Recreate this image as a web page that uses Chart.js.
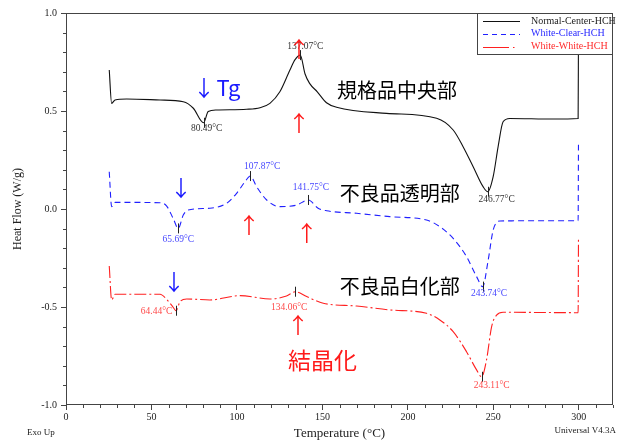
<!DOCTYPE html>
<html>
<head>
<meta charset="utf-8">
<script src="https://cdn.jsdelivr.net/npm/chart.js@4"></script>
<style>
  html, body { margin: 0; padding: 0; background: #fff; }
  #wrap { width: 624px; height: 441px; }
</style>
</head>
<body>
<div id="wrap"><canvas id="dsc" width="624" height="441"></canvas></div>
<script>
// Series (temperature in °C, heat flow in W/g)
const blackT = [25.3, 26.7, 28.7, 35.5, 55, 68.6, 74.5, 80.49, 83.2, 88.1, 105.7, 113.5, 119.3, 125.1, 131, 134, 137.07, 139.8, 142.5, 147, 152.4, 158.3, 187.5, 216.8, 226.5, 232.3, 238.2, 244, 246.77, 249.9, 252.8, 255.7, 259.6, 285, 299.6, 299.8];
const blackV = [0.709, 0.539, 0.556, 0.561, 0.556, 0.547, 0.514, 0.44, 0.497, 0.505, 0.509, 0.517, 0.539, 0.598, 0.709, 0.762, 0.785, 0.69, 0.641, 0.598, 0.542, 0.519, 0.488, 0.463, 0.403, 0.318, 0.216, 0.114, 0.088, 0.165, 0.318, 0.445, 0.462, 0.459, 0.462, 0.9];

const blueT = [25.3, 26.7, 28.7, 55, 58.9, 62.7, 65.69, 68.6, 71.5, 84.2, 94, 99.8, 104.7, 107.87, 111.5, 117.4, 125.1, 134.9, 141.75, 147.5, 152.5, 170, 189.5, 210.9, 218.7, 226.5, 234.3, 240.2, 243.74, 247, 249.9, 253.8, 277.2, 299.6, 299.8];
const blueV = [0.19, 0.012, 0.034, 0.032, 0.015, -0.048, -0.099, -0.031, -0.005, 0.004, 0.029, 0.08, 0.139, 0.168, 0.114, 0.046, 0.012, 0.02, 0.046, 0.004, -0.009, -0.022, -0.039, -0.056, -0.09, -0.15, -0.243, -0.345, -0.396, -0.26, -0.107, -0.061, -0.06, -0.06, 0.335];

const redT = [25.3, 26.7, 28.7, 55, 58.9, 62.4, 64.44, 66.7, 70.6, 84.2, 101.8, 119.3, 129, 134.06, 140.8, 150.5, 170, 189.5, 210.9, 218.7, 226.5, 234.3, 240.2, 243.11, 246, 249, 251.9, 255.7, 299.6, 299.8];
const redV = [-0.291, -0.464, -0.435, -0.435, -0.461, -0.498, -0.519, -0.473, -0.459, -0.464, -0.442, -0.459, -0.444, -0.422, -0.447, -0.481, -0.495, -0.515, -0.532, -0.566, -0.626, -0.728, -0.821, -0.856, -0.77, -0.6, -0.541, -0.527, -0.529, -0.15];

const seriesNames = ['Normal-Center-HCH', 'White-Clear-HCH', 'White-White-HCH'];

// Peak temperatures and the heat flow at each peak
const blackPeakT = [80.49, 137.07, 246.77];
const blackPeakV = [0.44, 0.785, 0.088];
const bluePeakT = [65.69, 107.87, 141.75, 243.74];
const bluePeakV = [-0.099, 0.168, 0.046, -0.396];
const redPeakT = [64.44, 134.06, 243.11];
const redPeakV = [-0.519, -0.422, -0.856];

// Where each peak label sits (data coords)
const blackLabelAt = [[82.3, 0.412], [140, 0.828], [251.9, 0.049]];
const blueLabelAt = [[65.7, -0.155], [114.8, 0.219], [143.3, 0.109], [247.5, -0.43]];
const redLabelAt = [[53, -0.524], [130.6, -0.503], [249, -0.903]];

// Tick labels
const xTickLabels = [0, 50, 100, 150, 200, 250, 300];
const yTickLabels = [-1.0, -0.5, 0.0, 0.5, 1.0];

// Hand annotations: arrows and Japanese notes
const upArrows = [[136.3, 0.816], [136.3, 0.439], [107, -0.082], [140.9, -0.122], [135.7, -0.592]];
const downArrows = [[80.7, 0.617], [67.3, 0.110], [63.2, -0.372]];
const notes = [
  ['規格品中央部', 158.5, 0.607],
  ['不良品透明部', 160.2, 0.082],
  ['不良品白化部', 160.2, -0.393]
];

const COLORS = { black: '#111', blue: '#2020ff', red: '#ff2020' };
const SERIF = '"Liberation Serif", "DejaVu Serif", serif';
const CJK = '"Noto Sans CJK JP", "Noto Sans", sans-serif';

function pts(xs, ys) {
  return xs.map((t, i) => ({ x: t, y: ys[i] }));
}

const dashes = [[], [6, 4], [12, 3, 2, 3]];

const annotate = {
  id: 'annotate',
  afterDatasetsDraw(chart) {
    const { ctx, chartArea: a, scales: { x, y } } = chart;
    const px = (t) => x.getPixelForValue(t);
    const py = (v) => y.getPixelForValue(v);
    ctx.save();

    // minor ticks
    ctx.strokeStyle = '#444';
    ctx.lineWidth = 1;
    ctx.beginPath();
    for (let t = 0; t <= 320; t += 10) {
      if (t % 50 === 0) continue;
      const xx = Math.round(px(t)) + 0.5;
      ctx.moveTo(xx, a.bottom);
      ctx.lineTo(xx, a.bottom + 3);
    }
    for (let k = -10; k <= 10; k++) {
      if (k % 5 === 0) continue;
      const yy = Math.round(py(k / 10)) + 0.5;
      ctx.moveTo(a.left - 3, yy);
      ctx.lineTo(a.left, yy);
    }
    ctx.stroke();

    // frame
    ctx.strokeStyle = '#444';
    ctx.strokeRect(Math.round(a.left) + 0.5, Math.round(a.top) + 0.5,
      Math.round(a.right - a.left) - 1, Math.round(a.bottom - a.top) - 1);

    // peak marks and labels
    const peakSets = [
      [blackPeakT, blackPeakV, blackLabelAt, '#333'],
      [bluePeakT, bluePeakV, blueLabelAt, '#4848ff'],
      [redPeakT, redPeakV, redLabelAt, '#ff4848']
    ];
    ctx.font = '9.5px ' + SERIF;
    ctx.textAlign = 'center';
    ctx.textBaseline = 'middle';
    peakSets.forEach(([ts, vs, at, col]) => {
      ts.forEach((t, i) => {
        const xx = Math.round(px(t)) + 0.5;
        const yy = py(vs[i]);
        ctx.strokeStyle = '#222';
        ctx.beginPath();
        ctx.moveTo(xx, yy - 5);
        ctx.lineTo(xx, yy + 5);
        ctx.stroke();
        ctx.fillStyle = col;
        ctx.fillText(t.toFixed(2) + '°C', px(at[i][0]), py(at[i][1]));
      });
    });

    // arrows
    ctx.font = '22px ' + CJK;
    ctx.fillStyle = '#ff1a1a';
    upArrows.forEach(([t, v]) => ctx.fillText('↑', px(t), py(v)));
    ctx.fillStyle = '#1a1aff';
    downArrows.forEach(([t, v]) => ctx.fillText('↓', px(t), py(v)));

    // notes
    ctx.textAlign = 'left';
    ctx.font = '22px ' + CJK;
    ctx.fillStyle = '#1a1aff';
    ctx.fillText('Tg', px(88.1), py(0.617));
    ctx.font = '20px ' + CJK;
    ctx.fillStyle = '#000';
    notes.forEach(([s, t, v]) => ctx.fillText(s, px(t), py(v)));
    ctx.font = '23px ' + CJK;
    ctx.fillStyle = '#ff1a1a';
    ctx.fillText('結晶化', px(129.8), py(-0.77));

    // legend box
    const lx = 477.5, ly = Math.round(a.top) + 0.5, lw = 135, lh = 41;
    ctx.fillStyle = '#fff';
    ctx.fillRect(lx, ly, lw, lh);
    ctx.strokeStyle = '#444';
    ctx.strokeRect(lx, ly, lw, lh);
    const legendCols = [COLORS.black, COLORS.blue, COLORS.red];
    const legendText = ['#222', '#2a2aff', '#ff2a2a'];
    const legendDash = [[], [5, 4], [26, 4, 1.5, 10]];
    ctx.font = '10px ' + SERIF;
    ctx.textBaseline = 'middle';
    seriesNames.forEach((name, i) => {
      const rowY = 21 + i * 12.8;
      ctx.strokeStyle = legendCols[i];
      ctx.setLineDash(legendDash[i]);
      ctx.beginPath();
      ctx.moveTo(483, Math.round(rowY) + 0.5);
      ctx.lineTo(520, Math.round(rowY) + 0.5);
      ctx.stroke();
      ctx.setLineDash([]);
      ctx.fillStyle = legendText[i];
      ctx.fillText(name, 531, rowY);
    });

    // footer texts
    ctx.fillStyle = '#222';
    ctx.font = '9px ' + SERIF;
    ctx.textAlign = 'left';
    ctx.fillText('Exo Up', 27, 433);
    ctx.textAlign = 'right';
    ctx.fillText('Universal V4.3A', 616, 431);
    ctx.restore();
  }
};

new Chart(document.getElementById('dsc'), {
  type: 'line',
  data: {
    datasets: [
      { label: seriesNames[0], data: pts(blackT, blackV), borderColor: COLORS.black, borderDash: dashes[0] },
      { label: seriesNames[1], data: pts(blueT, blueV), borderColor: COLORS.blue, borderDash: dashes[1] },
      { label: seriesNames[2], data: pts(redT, redV), borderColor: COLORS.red, borderDash: dashes[2] }
    ].map(d => Object.assign(d, {
      borderWidth: 1.1,
      pointRadius: 0,
      fill: false,
      cubicInterpolationMode: 'monotone'
    }))
  },
  options: {
    responsive: false,
    animation: false,
    devicePixelRatio: 1,
    layout: { padding: { left: 0, top: 13, right: 11, bottom: 0 } },
    plugins: { legend: { display: false }, tooltip: { enabled: false } },
    scales: {
      x: {
        type: 'linear',
        min: 0,
        max: 320,
        afterFit: (s) => { s.height = 36; },
        border: { display: false },
        grid: {
          drawOnChartArea: false,
          tickLength: 5,
          tickColor: (c) => (c.tick && xTickLabels.includes(c.tick.value)) ? '#444' : 'rgba(0,0,0,0)'
        },
        ticks: {
          stepSize: 10,
          autoSkip: false,
          maxRotation: 0,
          padding: 1,
          color: '#222',
          font: { family: SERIF, size: 10 },
          callback: (v) => xTickLabels.includes(v) ? String(v) : ''
        },
        title: {
          display: true,
          text: 'Temperature (°C)',
          color: '#222',
          font: { family: SERIF, size: 13 },
          padding: { top: 0, bottom: 0 }
        }
      },
      y: {
        min: -1,
        max: 1,
        afterFit: (s) => { s.width = 66; },
        border: { display: false },
        grid: {
          drawOnChartArea: false,
          tickLength: 5,
          tickColor: (c) => (c.tick && Math.round(c.tick.value * 10) % 5 === 0) ? '#444' : 'rgba(0,0,0,0)'
        },
        ticks: {
          stepSize: 0.1,
          autoSkip: false,
          padding: 4,
          color: '#222',
          font: { family: SERIF, size: 10 },
          callback: (v) => {
            const hit = yTickLabels.find(t => Math.abs(t - v) < 1e-6);
            return hit === undefined ? '' : hit.toFixed(1);
          }
        },
        title: {
          display: true,
          text: 'Heat Flow (W/g)',
          color: '#222',
          font: { family: SERIF, size: 12 },
          padding: { top: 11, bottom: 0 }
        }
      }
    }
  },
  plugins: [annotate]
});
</script>
</body>
</html>
